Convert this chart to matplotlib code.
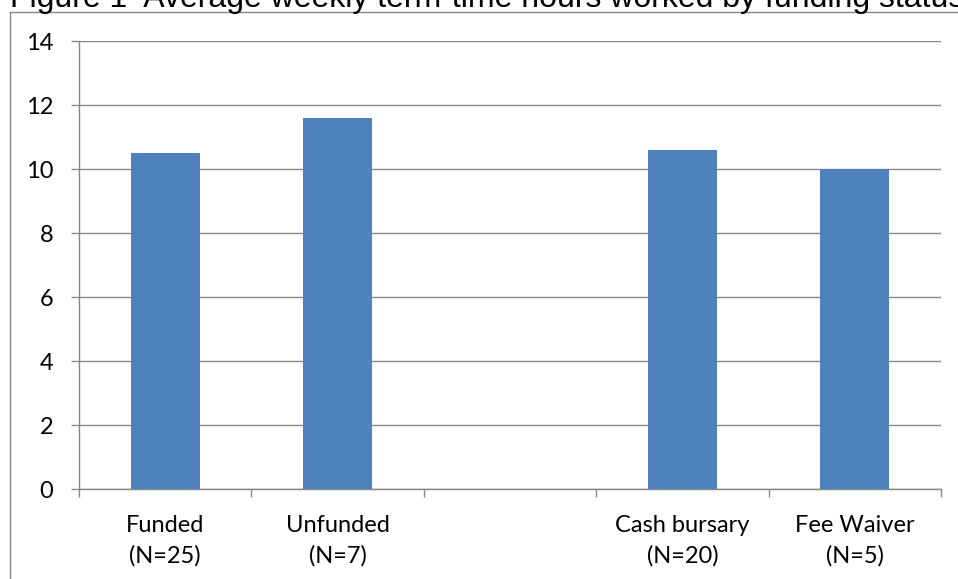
import matplotlib
matplotlib.use("Agg")
import matplotlib.pyplot as plt
from matplotlib.patches import Rectangle
import numpy as np

categories = ["Funded\n(N=25)", "Unfunded\n(N=7)", "", "Cash bursary\n(N=20)", "Fee Waiver\n(N=5)"]
values = [10.5, 11.6, np.nan, 10.6, 10.0]
yticks = [0, 2, 4, 6, 8, 10, 12, 14]
title = "Figure 1  Average weekly term-time hours worked by funding status"

W, H = 958, 579
fig = plt.figure(figsize=(W / 100, H / 100), dpi=100)
fig.patch.set_facecolor("white")

# outer chart border (extends past the bottom/right edges)
fig.patches.append(Rectangle((10 / W, -0.1), 1.2, 1 - 12 / H + 0.1, transform=fig.transFigure,
                             fill=False, edgecolor="#868686", linewidth=1.0))

fig.text(10 / W, 1 - 7 / H, title, ha="left", va="baseline",
         fontsize=23, family=["Liberation Sans", "DejaVu Sans"], color="black")

ax = fig.add_axes([79 / W, 90 / H, (941 - 79) / W, (489 - 41) / H])
x = np.arange(len(categories))
ax.bar(x, values, width=0.4, color="#4F81BD", zorder=3)

ax.set_xlim(-0.5, len(categories) - 0.5)
ax.set_ylim(0, 14)
ax.set_yticks(yticks)
ax.set_yticklabels([str(v) for v in yticks])
ax.yaxis.grid(True, color="#868686", linewidth=1.0, zorder=0)
ax.set_axisbelow(True)

ax.set_xticks(np.arange(-0.5, len(categories), 1.0))
ax.set_xticklabels([])
ax.set_xticks(x, minor=True)
ax.set_xticklabels(categories, minor=True, fontsize=17, family="Lato", linespacing=1.5)
ax.tick_params(axis="x", which="major", direction="out", length=6, width=1.0, color="#868686")
ax.tick_params(axis="x", which="minor", length=0, pad=19)
ax.tick_params(axis="y", direction="out", length=5.5, width=1.0, color="#868686", pad=13,
               labelsize=17)
for lab in ax.get_yticklabels():
    lab.set_family("Lato")

for s in ["top", "right"]:
    ax.spines[s].set_visible(False)
for s in ["left", "bottom"]:
    ax.spines[s].set_color("#868686")
    ax.spines[s].set_linewidth(1.0)

fig.savefig("out.png", dpi=100, facecolor="white")
